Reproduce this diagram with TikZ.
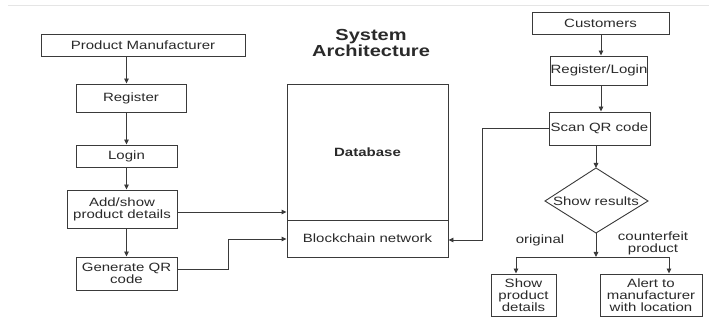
\documentclass[tikz,border=0pt]{standalone}
\usepackage{fontspec}
\setmainfont{Liberation Sans}[FakeStretch=1.25]
\usetikzlibrary{arrows.meta,calc}
\definecolor{ln}{HTML}{3A3A3A}
\definecolor{tx}{HTML}{2A2A2A}
\tikzset{
  base/.style={font=\fontsize{12}{12}\selectfont, text=tx},
  boxn/.style={base, draw=ln, line width=0.9pt, inner sep=0pt, align=center},
  conn/.style={draw=ln, line width=0.9pt, -{Triangle[length=5pt,width=4.5pt]}},
  plain/.style={draw=ln, line width=0.9pt},
  lbl/.style={base, align=center, inner sep=0pt},
}
\begin{document}
\begin{tikzpicture}[x=1pt,y=-1pt]
\useasboundingbox (0,0) rectangle (709,320);
\fill[white] (0,0) rectangle (709,320);
\draw[black!10, line width=0.8pt] (8,5) -- (709,5);

% Title
\node[lbl, font=\bfseries\fontsize{16}{16}\selectfont] (title) at (371,43) {System\\Architecture};

% Left column
\node[boxn, minimum width=204pt, minimum height=22pt] (pm) at (143,45) {Product Manufacturer};
\node[boxn, minimum width=110pt, minimum height=28pt] (reg) at (131,98) {Register};
\node[boxn, minimum width=101pt, minimum height=22pt] (login) at (126.5,156) {Login};
\node[boxn, minimum width=110pt, minimum height=38pt] (add) at (122,209) {Add/show\\product details};
\node[boxn, minimum width=101pt, minimum height=33pt] (gen) at (126.5,273.5) {Generate QR\\code};

% Database block
\node[boxn, minimum width=161pt, minimum height=136pt, font=\bfseries\fontsize{12}{12}\selectfont] (db) at (367.5,152) {Database};
\node[boxn, minimum width=161pt, minimum height=37pt] (bc) at (367.5,238.5) {Blockchain network};

% Right column
\node[boxn, minimum width=137pt, minimum height=22pt] (cust) at (600.5,23) {Customers};
\node[boxn, minimum width=96pt, minimum height=29pt] (rl) at (599,70.5) {Register/Login};
\node[boxn, minimum width=101pt, minimum height=33pt] (scan) at (599.5,128.5) {Scan QR code};

% Diamond
\coordinate (dtop) at (596,168);
\coordinate (dbot) at (596,233);
\coordinate (dleft) at (545,201);
\coordinate (dright) at (648,201);
\draw[plain] (dtop) -- (dright) -- (dbot) -- (dleft) -- cycle;
\node[lbl] (dia) at (596,201) {Show results};

\node[boxn, minimum width=65pt, minimum height=42pt] (spd) at (523.5,295) {Show\\product\\details};
\node[boxn, minimum width=102pt, minimum height=42pt] (alert) at (651,295) {Alert to\\manufacturer\\with location};

\node[lbl] (orig) at (540,240) {original};
\node[lbl] (cf) at (653,243) {counterfeit\\product};

% Left connectors
\draw[conn] (pm.south -| login.south) -- (reg.north -| login.south);
\draw[conn] (reg.south -| login.south) -- (login.north);
\draw[conn] (login.south) -- (add.north -| login.south);
\draw[conn] (add.south -| login.south) -- (gen.north);
\coordinate (a1) at ($(add.east)+(0,3)$);
\draw[conn] (a1) -- (a1 -| db.west);
\coordinate (g1) at ($(gen.east)+(0,-4.5)$);
\coordinate (g2) at (228,0);
\coordinate (b1) at ($(bc.west)+(0,0.5)$);
\draw[conn] (g1) -- (g1 -| g2) |- (b1);

% Right connectors
\coordinate (rx) at (601,0);
\draw[conn] (cust.south -| rx) -- (rl.north -| rx);
\draw[conn] (rl.south -| rx) -- (scan.north -| rx);
\draw[conn] (scan.south -| dtop) -- (dtop);
\coordinate (s2) at (482,0);
\coordinate (b2) at ($(bc.east)+(0,1.5)$);
\draw[conn] (scan.west) -- (scan.west -| s2) |- (b2);
\coordinate (jn) at (596,257);
\draw[conn] (dbot) -- (jn);
\coordinate (jl) at (516,257);
\coordinate (jr) at (669,257);
\draw[plain] (jl) -- (jr);
\draw[conn] (jl) -- (jl |- spd.north);
\draw[conn] (jr) -- (jr |- alert.north);
\end{tikzpicture}
\end{document}
